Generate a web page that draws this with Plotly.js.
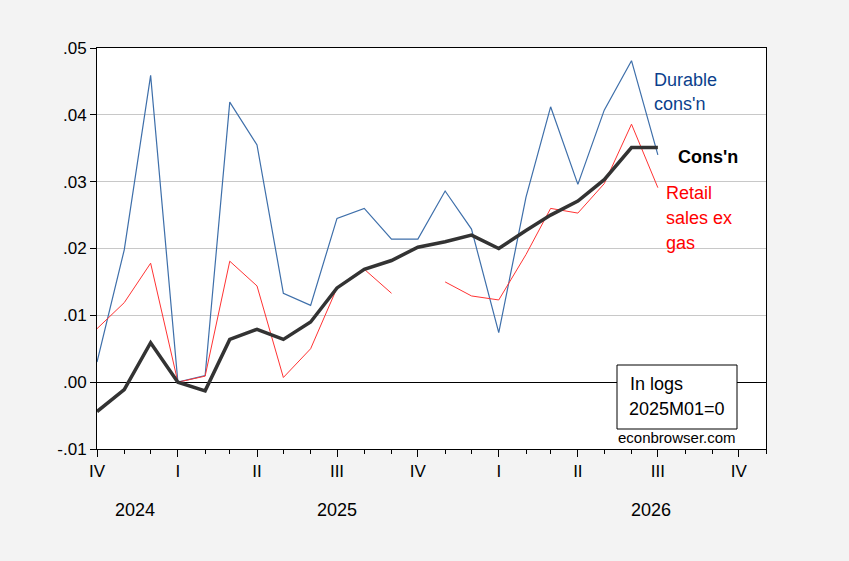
<!DOCTYPE html>
<html>
<head>
<meta charset="utf-8">
<script src="https://cdn.plot.ly/plotly-3.0.1.min.js"></script>
<style>html,body{margin:0;padding:0;background:#f3f3f3;}#chart{width:849px;height:561px;}</style>
</head>
<body>
<div id="chart"></div>
<script>
const months = ["2024-10-01","2024-11-01","2024-12-01","2025-01-01","2025-02-01","2025-03-01","2025-04-01","2025-05-01","2025-06-01","2025-07-01","2025-08-01","2025-09-01","2025-10-01","2025-11-01","2025-12-01","2026-01-01","2026-02-01","2026-03-01","2026-04-01","2026-05-01","2026-06-01","2026-07-01"];
const durable = [0.0030, 0.0198, 0.0459, 0.0000, 0.0010, 0.0419, 0.0355, 0.0133, 0.0115, 0.0245, 0.0260, 0.0214, 0.0214, 0.0286, 0.0229, 0.0074, 0.0277, 0.0412, 0.0296, 0.0407, 0.0481, 0.0340];
const consn = [-0.0044, -0.0011, 0.0059, 0.0000, -0.0013, 0.0064, 0.0079, 0.0064, 0.0090, 0.0141, 0.0169, 0.0182, 0.0202, 0.0210, 0.0220, 0.0200, 0.0227, 0.0250, 0.0271, 0.0303, 0.0351, 0.0351];
const retail = [0.0080, 0.0119, 0.0178, 0.0000, 0.0009, 0.0181, 0.0144, 0.0007, 0.0050, 0.0141, 0.0169, 0.0133, null, 0.0150, 0.0129, 0.0123, 0.0191, 0.0260, 0.0253, 0.0297, 0.0386, 0.0291];
const quarterTicks = ["2024-10-01","2025-01-01","2025-04-01","2025-07-01","2025-10-01","2026-01-01","2026-04-01","2026-07-01","2026-10-01"];
const quarterLabels = ["IV","I","II","III","IV","I","II","III","IV"];
const yTicks = [-0.01, 0.00, 0.01, 0.02, 0.03, 0.04, 0.05];
const yLabels = ["-.01", ".00", ".01", ".02", ".03", ".04", ".05"];
const years = ["2024","2025","2026"];
const yearPos = ["2024-11-13","2025-07-01","2026-06-23"];

const FONT = "Liberation Sans, Arial, sans-serif";

const traces = [
  {x: months, y: durable, type: 'scatter', mode: 'lines', line: {color: '#3e6faa', width: 1.2}, connectgaps: false, hoverinfo: 'skip'},
  {x: months, y: retail, type: 'scatter', mode: 'lines', line: {color: '#ff3333', width: 1}, connectgaps: false, hoverinfo: 'skip'},
  {x: months, y: consn, type: 'scatter', mode: 'lines', line: {color: '#333333', width: 3.5}, connectgaps: false, hoverinfo: 'skip'}
];

const annotations = [
  {xref:'paper', yref:'paper', x:0.829, y:(449-80)/401, xanchor:'left', yanchor:'middle', text:'Durable', showarrow:false, font:{family:FONT, size:18, color:'#0b3f8c'}},
  {xref:'paper', yref:'paper', x:0.829, y:(449-104)/401, xanchor:'left', yanchor:'middle', text:"cons'n", showarrow:false, font:{family:FONT, size:18, color:'#0b3f8c'}},
  {xref:'paper', yref:'paper', x:(676-97)/669, y:(449-157)/401, xanchor:'left', yanchor:'middle', text:"<b>Cons'n</b>", showarrow:false, font:{family:FONT, size:18, color:'#000000'}},
  {xref:'paper', yref:'paper', x:(664-97)/669, y:(449-193)/401, xanchor:'left', yanchor:'middle', text:'Retail', showarrow:false, font:{family:FONT, size:18, color:'#ff0000'}},
  {xref:'paper', yref:'paper', x:(664-97)/669, y:(449-218)/401, xanchor:'left', yanchor:'middle', text:'sales ex', showarrow:false, font:{family:FONT, size:18, color:'#ff0000'}},
  {xref:'paper', yref:'paper', x:(664-97)/669, y:(449-243)/401, xanchor:'left', yanchor:'middle', text:'gas', showarrow:false, font:{family:FONT, size:18, color:'#ff0000'}},
  {xref:'paper', yref:'paper', x:(628-97)/669, y:(449-384)/401, xanchor:'left', yanchor:'middle', text:'In logs', showarrow:false, font:{family:FONT, size:18, color:'#000000'}},
  {xref:'paper', yref:'paper', x:(627-97)/669, y:(449-409)/401, xanchor:'left', yanchor:'middle', text:'2025M01=0', showarrow:false, font:{family:FONT, size:18, color:'#000000'}},
  {xref:'paper', yref:'paper', x:(677-97)/669, y:(449-437)/401, xanchor:'center', yanchor:'middle', text:'econbrowser.com', showarrow:false, font:{family:FONT, size:15, color:'#000000'}}
];
years.forEach((yr, i) => {
  annotations.push({xref:'x', yref:'paper', x: yearPos[i], y:(449-510)/401, xanchor:'center', yanchor:'middle', text: yr, showarrow:false, font:{family:FONT, size:18, color:'#000000'}});
});

const layout = {
  width: 849, height: 561,
  margin: {l: 97, r: 83, t: 48, b: 112},
  paper_bgcolor: '#f3f3f3',
  plot_bgcolor: '#ffffff',
  showlegend: false,
  font: {family: FONT, size: 17, color: '#000000'},
  xaxis: {
    type: 'date',
    range: ["2024-10-01","2026-11-01"],
    tickmode: 'array', tickvals: quarterTicks, ticktext: quarterLabels,
    ticks: 'outside', ticklen: 7, tickcolor: '#000000', tickwidth: 1,
    minor: {dtick: 'M1', tick0: '2024-10-01', ticks: 'outside', ticklen: 4, tickcolor: '#000000', showgrid: false},
    showgrid: false, zeroline: false,
    showline: true, mirror: true, linecolor: '#000000', linewidth: 1,
    tickfont: {family: FONT, size: 17, color: '#000000'}
  },
  yaxis: {
    range: [-0.01, 0.05],
    tickmode: 'array', tickvals: yTicks, ticktext: yLabels,
    ticks: 'outside', ticklen: 6, tickcolor: '#000000',
    showgrid: true, gridcolor: '#c8c8c8', gridwidth: 1,
    zeroline: true, zerolinecolor: '#000000', zerolinewidth: 1,
    showline: true, mirror: true, linecolor: '#000000', linewidth: 1,
    tickfont: {family: FONT, size: 17, color: '#000000'}
  },
  shapes: [
    {type:'rect', xref:'paper', yref:'paper', x0:(617-97)/669, x1:(737-97)/669, y0:(449-429)/401, y1:(449-365)/401, fillcolor:'#ffffff', line:{color:'#000000', width:1}, layer:'above'}
  ],
  annotations: annotations
};

Plotly.newPlot('chart', traces, layout, {staticPlot: true, displayModeBar: false});
</script>
</body>
</html>
